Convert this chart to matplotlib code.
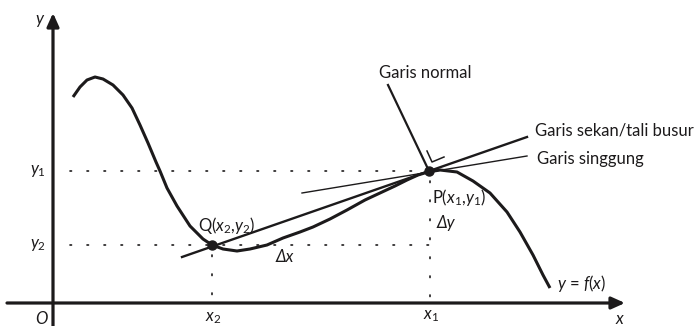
import matplotlib
matplotlib.use("Agg")
import matplotlib.pyplot as plt

# diagram is laid out in pixel units of the 698x326 picture (y grows downward)
ink = "#1c1a1b"

# curve y = f(x)
curve_x = [73, 80, 87, 95, 103, 113, 123, 132, 140, 148, 156, 160, 167, 177, 190,
           203, 212, 223, 237, 250, 267, 283, 300, 313, 330, 347, 365, 380, 395,
           407, 418, 428, 440, 457, 473, 490, 507, 520, 533, 543, 550]
curve_y = [97, 87, 80, 77, 79, 85, 95, 108, 125, 143, 162, 171, 188, 206, 226,
           239, 245, 249, 251, 249, 245, 238, 232, 227, 219, 210, 200, 193, 186,
           180, 175, 172, 170, 172, 181, 193, 212, 232, 255, 275, 288]

# points P and Q
P = (429, 171)
Q = (212, 245)

# lines
secant_x, secant_y = [182, 527], [257, 137]
tangent_x, tangent_y = [302, 527], [193, 156]
normal_x, normal_y = [388, 429], [85, 171]
corner_x, corner_y = [427, 432, 444], [151, 162, 157]

# axes frame
origin = (53, 303)
x_end, y_end = 625, 13

plt.rcParams["font.family"] = ["Lato", "Open Sans", "DejaVu Sans"]
plt.rcParams["mathtext.fontset"] = "custom"
plt.rcParams["mathtext.rm"] = "Lato"
plt.rcParams["mathtext.it"] = "Lato:italic"

fig = plt.figure(figsize=(6.98, 3.26), dpi=100)
ax = fig.add_axes([0, 0, 1, 1])
ax.set_xlim(0, 698)
ax.set_ylim(326, 0)
ax.axis("off")

# coordinate axes
arrow = dict(arrowstyle="-|>,head_length=0.8,head_width=0.36", lw=2.3,
             color=ink, shrinkA=0, shrinkB=0)
ax.annotate("", xy=(x_end, origin[1]), xytext=(7, origin[1]), arrowprops=arrow)
ax.annotate("", xy=(origin[0], y_end), xytext=(origin[0], 326), arrowprops=arrow)

# dotted guides
dots = dict(color=ink, lw=1.2, linestyle=(0, (0.9, 9.3)), dash_capstyle="round")
ax.plot([70, P[0]], [P[1], P[1]], **dots)
ax.plot([70, P[0]], [Q[1], Q[1]], **dots)
vdots = dict(color=ink, lw=1.2, linestyle=(0, (0.9, 10.5)), dash_capstyle="round")
ax.plot([Q[0], Q[0]], [Q[1] + 10, origin[1]], **vdots)
ax.plot([P[0] + 1, P[0] + 1], [P[1] + 10, origin[1]], **vdots)

# curve and lines
ax.plot(curve_x, curve_y, color=ink, lw=2.2, solid_joinstyle="round",
        solid_capstyle="butt")
ax.plot(secant_x, secant_y, color=ink, lw=1.7)
ax.plot(tangent_x, tangent_y, color=ink, lw=1.0)
ax.plot(normal_x, normal_y, color=ink, lw=1.6)
ax.plot(corner_x, corner_y, color=ink, lw=1.1)
ax.plot([P[0], Q[0]], [P[1], Q[1]], "o", color=ink, ms=6.5)

fs = 12
ax.text(40, 21, "$y$", fontsize=fs, ha="center", va="center", color=ink)
ax.text(42, 318, "$O$", fontsize=fs, ha="center", va="center", color=ink)
ax.text(620, 319, "$x$", fontsize=fs, ha="center", va="center", color=ink)
ax.text(213, 318, "$x_2$", fontsize=fs, ha="center", va="center", color=ink)
ax.text(431, 316, "$x_1$", fontsize=fs, ha="center", va="center", color=ink)
ax.text(38, 171, "$y_1$", fontsize=fs, ha="center", va="center", color=ink)
ax.text(38, 245, "$y_2$", fontsize=fs, ha="center", va="center", color=ink)

ax.text(425, 73, "Garis normal", fontsize=fs, ha="center", va="center", color=ink)
ax.text(535, 131, "Garis sekan/tali busur", fontsize=fs, ha="left", va="center",
        color=ink)
ax.text(537, 159, "Garis singgung", fontsize=fs, ha="left", va="center", color=ink)
ax.text(198, 226, "Q($x_2$,$y_2$)", fontsize=fs, ha="left", va="center", color=ink)
ax.text(432, 197, "P($x_1$,$y_1$)", fontsize=fs, ha="left", va="center", color=ink)
ax.text(437, 223, "Δy", fontsize=fs, style="italic", ha="left", va="center",
        color=ink)
ax.text(276, 257, "Δx", fontsize=fs, style="italic", ha="left", va="center",
        color=ink)
ax.text(557, 283, "$y$ = $f$($x$)", fontsize=fs, ha="left", va="center", color=ink)

fig.savefig("out.png", dpi=100)
